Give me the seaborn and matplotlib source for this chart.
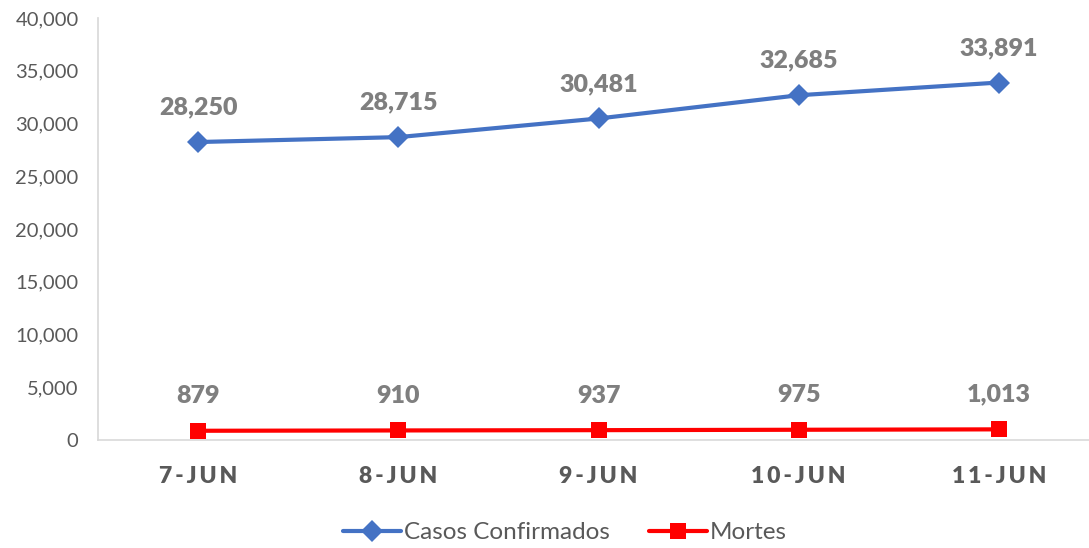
import numpy as np
import pandas as pd
import matplotlib
matplotlib.use("Agg")
import matplotlib.pyplot as plt
import seaborn as sns
from matplotlib.ticker import FuncFormatter

dates = ["7-JUN", "8-JUN", "9-JUN", "10-JUN", "11-JUN"]
casos = [28250, 28715, 30481, 32685, 33891]
mortes = [879, 910, 937, 975, 1013]

sns.set_theme(style="white")
plt.rcParams["font.family"] = ["Lato", "DejaVu Sans"]

fig = plt.figure(figsize=(10.89, 5.48), dpi=100)
ax = fig.add_axes([0.090, 0.197, 0.91, 0.770])

x = np.arange(len(dates))
sns.lineplot(x=x, y=casos, ax=ax, color="#4472C4", linewidth=3,
             marker="D", markersize=11, markeredgewidth=0, label="Casos Confirmados")
sns.lineplot(x=x, y=mortes, ax=ax, color="#FF0000", linewidth=3,
             marker="s", markersize=12, markeredgewidth=0, label="Mortes")

# data labels above each point
for xi, v in zip(x, casos):
    ax.annotate(f"{v:,}", (xi, v), xytext=(0, 17), textcoords="offset points",
                ha="center", va="bottom", fontsize=18, fontweight="heavy", color="#7F7F7F")
for xi, v in zip(x, mortes):
    ax.annotate(f"{v:,}", (xi, v), xytext=(0, 17), textcoords="offset points",
                ha="center", va="bottom", fontsize=18, fontweight="heavy", color="#7F7F7F")

ax.set_ylim(0, 40000)
ax.set_yticks(np.arange(0, 40001, 5000))
ax.yaxis.set_major_formatter(FuncFormatter(lambda v, p: f"{int(v):,}"))
ax.set_xlim(-0.5, 4.45)
ax.set_xticks(x)
ax.set_xticklabels(["\u2009".join(d) for d in dates], fontsize=16.5,
                   fontweight="heavy", color="#595959")
ax.tick_params(axis="y", labelsize=14.5, labelcolor="#595959", length=0, pad=14)
ax.tick_params(axis="x", length=0, pad=19)

for s in ["top", "right"]:
    ax.spines[s].set_visible(False)
ax.spines["left"].set_color("#D9D9D9")
ax.spines["bottom"].set_color("#D9D9D9")
ax.spines["bottom"].set_linewidth(1.2)

ax.legend(loc="upper center", bbox_to_anchor=(0.471, -0.143), ncol=2, frameon=False,
          fontsize=17.5, labelcolor="#595959", handlelength=2.4, columnspacing=1.6,
          handletextpad=0.1)

fig.savefig("out.png", dpi=100)
